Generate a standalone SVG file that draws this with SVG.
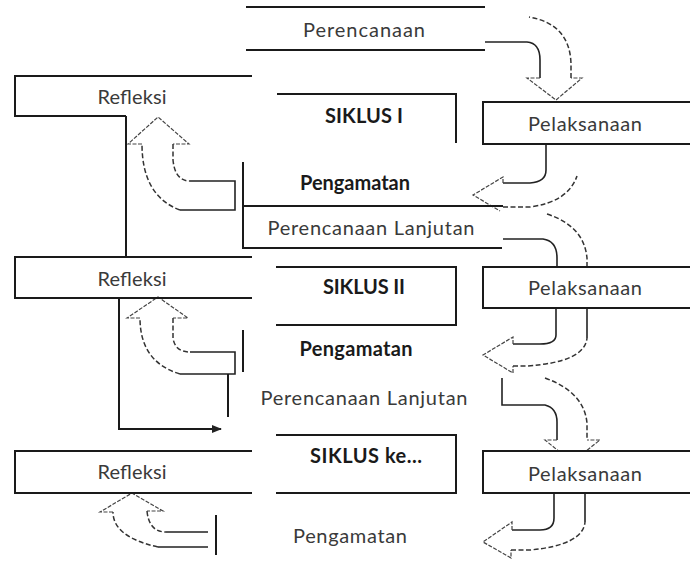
<svg xmlns="http://www.w3.org/2000/svg" width="691" height="561" viewBox="0 0 691 561">
<style>
.bg{fill:#fff}
.ln{fill:none;stroke:#1a1a1a;stroke-width:2}
.box{fill:#fff;stroke:none}
.t{font-family:Lato,"Liberation Sans",sans-serif;font-size:20px;fill:#3a3a3a;text-anchor:middle}
.b{font-weight:bold;fill:#1a1a1a}
.sol{fill:none;stroke:#222;stroke-width:1.6}
.dsh{fill:none;stroke:#333;stroke-width:1.5;stroke-dasharray:5 2.5}
.hd{fill:none;stroke:#444;stroke-width:1.2;stroke-dasharray:4 1.5}
</style>
<defs>
<marker id="ah" markerWidth="10" markerHeight="8" refX="9" refY="4" orient="auto" markerUnits="userSpaceOnUse">
<path d="M0,0 L10,4 L0,8 Z" fill="#222"/>
</marker>
</defs>
<rect class="bg" x="0" y="0" width="691" height="561"/>

<g id="connectors">
<!-- A1 Perencanaan -> Pelaksanaan 1 -->
<path class="sol" d="M485,42 H527 Q540,43 540,60 V78"/>
<path class="hd" d="M540,78 H527 L556,100 L582,78 H571"/>
<path class="dsh" d="M571,78 V64 Q570,24 529,17"/>
<!-- A2 Pelaksanaan 1 -> Pengamatan 1 -->
<path class="sol" d="M546,144 V170 Q546,182 530,183 H503"/>
<path class="hd" d="M503,183 V177 L473,195 L500,211"/>
<path class="dsh" d="M503,207 H530 Q568,202 577,176"/>
<!-- A3 Perencanaan Lanjutan -> Pelaksanaan 2 -->
<path class="sol" d="M503,239 H543 Q557,241 557,258 V267"/>
<path class="dsh" d="M547,214 Q584,226 587,258 V267"/>
<!-- A4 Pelaksanaan 2 -> Pengamatan 2 -->
<path class="sol" d="M556,308 V335 Q556,344 540,344 H513"/>
<path class="sol" d="M587,308 V338"/>
<path class="hd" d="M513,344 V337 L483,355 L513,373 V366"/>
<path class="dsh" d="M513,366 H527 Q585,362 587,338"/>
<!-- A5 Perencanaan Lanjutan 2 -> Pelaksanaan 3 -->
<path class="sol" d="M502,378 V405 H545 Q557,408 557,422 V440"/>
<path class="hd" d="M557,440 H545 L572,462 L600,440 H587"/>
<path class="dsh" d="M545,378 Q584,392 587,423 V440"/>
<!-- A6 Pelaksanaan 3 -> Pengamatan 3 -->
<path class="sol" d="M554,493 V518 Q554,530 540,530 H512"/>
<path class="sol" d="M585,493 V522"/>
<path class="hd" d="M512,530 V522 L483,542 L511,558 V550"/>
<path class="dsh" d="M511,550 H530 Q583,545 585,522"/>
<!-- L1 Pengamatan 1 -> Refleksi 1 -->
<path class="hd" d="M142,144 H128 L158,117 L189,144 H173"/>
<path class="dsh" d="M173,144 V160 Q175,181 190,181"/>
<path class="sol" d="M190,181 H235 V210 H180"/>
<path class="dsh" d="M180,210 Q142,196 142,144"/>
<!-- L2 Pengamatan 2 -> Refleksi 2 -->
<path class="hd" d="M140,318 H127 L158,297 L188,318 H173"/>
<path class="dsh" d="M173,318 V338 Q175,352 190,352"/>
<path class="sol" d="M190,352 H235 V374 H180"/>
<path class="dsh" d="M180,374 Q140,362 140,318"/>
<path class="ln" d="M228,374 V417"/>
<!-- L3 Pengamatan 3 -> Refleksi 3 -->
<path class="hd" d="M113,512 H100 L132,493 L163,511 H147"/>
<path class="dsh" d="M147,511 Q149,532 166,532"/>
<path class="sol" d="M166,532 H208 M208,547 H158"/>
<path class="dsh" d="M158,547 Q113,537 113,512"/>
<!-- Refleksi 1 -> Refleksi 2 -->
<path class="ln" d="M126,116 V257"/>
<!-- Refleksi 2 -> Siklus berikut -->
<path class="ln" d="M119,298 V429 H221" marker-end="url(#ah)"/>
</g>

<g id="perencanaan">
<path class="ln" d="M246,7 H485 M246,50 H485"/>
<text class="t" x="364" y="37" textLength="122">Perencanaan</text>
</g>

<g id="refleksi1">
<path class="ln" d="M252,76 H15 V116 H126"/>
<text class="t" x="132" y="104" textLength="69">Refleksi</text>
</g>

<g id="siklus1">
<path class="ln" d="M277,94 H456 V143"/>
<text class="t b" x="364" y="123" textLength="78">SIKLUS I</text>
</g>

<g id="pelaksanaan1">
<rect class="box" x="483" y="102" width="207" height="42"/>
<path class="ln" d="M690,102 H483 V144 H690"/>
<text class="t" x="585" y="131" textLength="114">Pelaksanaan</text>
</g>

<g id="pengamatan1">
<path class="ln" d="M243,162 V207"/>
<text class="t b" x="355" y="190" textLength="110">Pengamatan</text>
</g>

<g id="perencanaan-lanjutan1">
<path class="ln" d="M503,206 H243 V248 H502"/>
<text class="t" x="371" y="235" textLength="207">Perencanaan Lanjutan</text>
</g>

<g id="refleksi2">
<path class="ln" d="M252,257 H15 V298 H252"/>
<text class="t" x="132" y="286" textLength="69">Refleksi</text>
</g>

<g id="siklus2">
<path class="ln" d="M276,267 H456 V325 H276"/>
<text class="t b" x="364" y="294" textLength="82">SIKLUS II</text>
</g>

<g id="pelaksanaan2">
<rect class="box" x="483" y="267" width="207" height="41"/>
<path class="ln" d="M690,267 H483 V308 H690"/>
<text class="t" x="585" y="295" textLength="114">Pelaksanaan</text>
</g>

<g id="pengamatan2">
<path class="ln" d="M243,330 V372"/>
<text class="t b" x="356" y="356" textLength="113">Pengamatan</text>
</g>

<g id="perencanaan-lanjutan2">
<text class="t" x="364" y="405" textLength="207">Perencanaan Lanjutan</text>
</g>

<g id="refleksi3">
<path class="ln" d="M252,451 H15 V493 H252"/>
<text class="t" x="132" y="479" textLength="69">Refleksi</text>
</g>

<g id="siklus3">
<path class="ln" d="M276,435 H456 V493 H276"/>
<text class="t b" x="366" y="463" textLength="112">SIKLUS ke...</text>
</g>

<g id="pelaksanaan3">
<rect class="box" x="483" y="451" width="207" height="42"/>
<path class="ln" d="M690,451 H483 V493 H690"/>
<text class="t" x="585" y="481" textLength="114">Pelaksanaan</text>
</g>

<g id="pengamatan3">
<path class="ln" d="M216,515 V555"/>
<text class="t" x="350" y="543" textLength="114">Pengamatan</text>
</g>
</svg>
